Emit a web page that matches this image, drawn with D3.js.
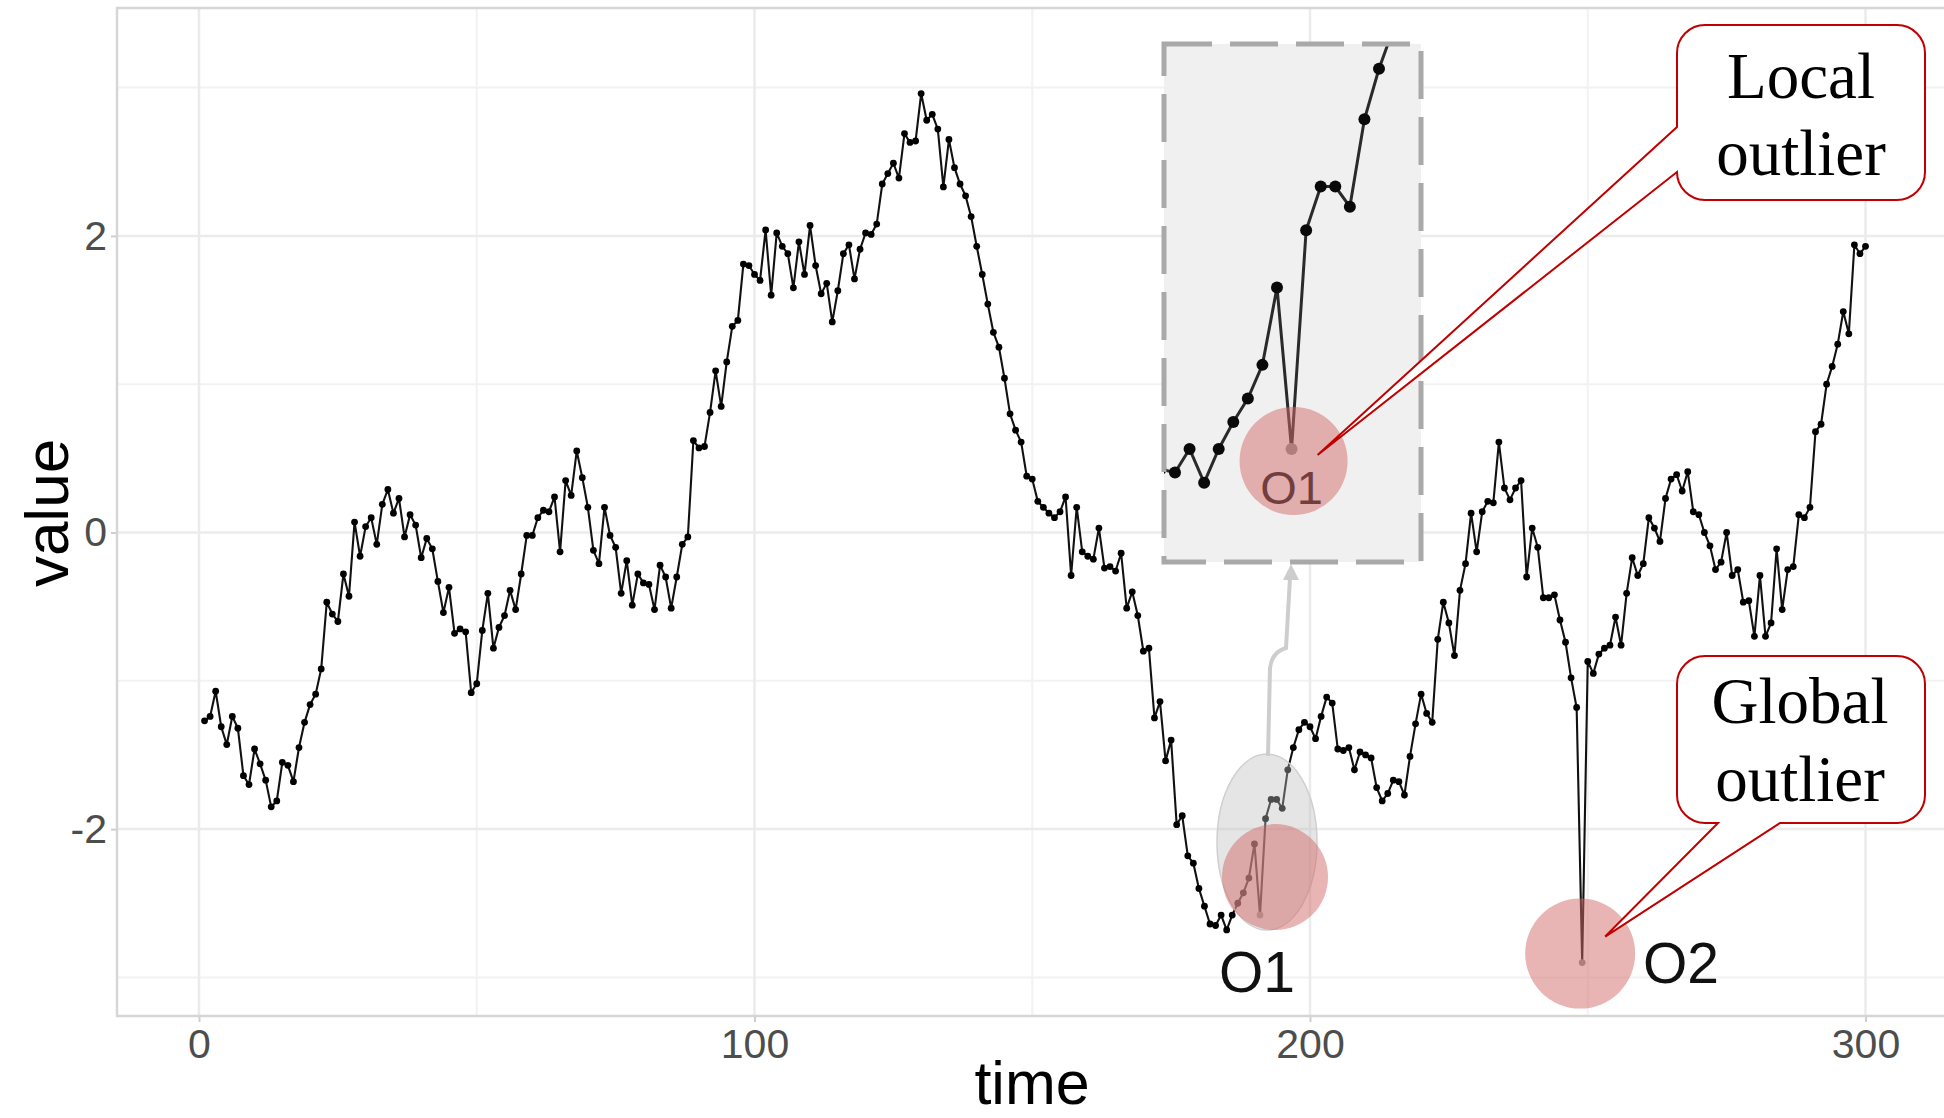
<!DOCTYPE html>
<html>
<head>
<meta charset="utf-8">
<script src="https://cdn.jsdelivr.net/npm/d3@7"></script>
<style>
  body { margin: 0; background: #fff; }
  text { font-family: "Liberation Sans", Arial, sans-serif; }
</style>
</head>
<body>
<div id="chart"></div>
<script>
const W = 1944, H = 1118

// series, time = 1..300
const values = [
  -1.27, -1.24, -1.07, -1.31, -1.43, -1.24, -1.32, -1.64, -1.70, -1.46,
  -1.56, -1.67, -1.85, -1.81, -1.55, -1.57, -1.68, -1.45, -1.28, -1.16,
  -1.09, -0.92, -0.47, -0.55, -0.60, -0.28, -0.43, 0.07, -0.16, 0.04,
  0.10, -0.08, 0.19, 0.29, 0.13, 0.23, -0.03, 0.12, 0.05, -0.17,
  -0.04, -0.11, -0.33, -0.54, -0.37, -0.68, -0.65, -0.67, -1.08, -1.02,
  -0.66, -0.41, -0.78, -0.64, -0.56, -0.39, -0.52, -0.28, -0.02, -0.02,
  0.10, 0.15, 0.14, 0.24, -0.13, 0.35, 0.25, 0.55, 0.37, 0.17,
  -0.12, -0.21, 0.17, -0.02, -0.10, -0.41, -0.19, -0.49, -0.28, -0.34,
  -0.35, -0.52, -0.22, -0.30, -0.51, -0.30, -0.08, -0.03, 0.62, 0.57,
  0.58, 0.81, 1.09, 0.85, 1.15, 1.39, 1.43, 1.81, 1.80, 1.74,
  1.70, 2.04, 1.60, 2.02, 1.93, 1.88, 1.65, 1.96, 1.74, 2.07,
  1.80, 1.61, 1.68, 1.42, 1.63, 1.88, 1.94, 1.71, 1.91, 2.02,
  2.01, 2.08, 2.35, 2.42, 2.49, 2.39, 2.69, 2.63, 2.64, 2.96,
  2.78, 2.82, 2.72, 2.33, 2.65, 2.46, 2.35, 2.27, 2.13, 1.93,
  1.74, 1.54, 1.35, 1.25, 1.04, 0.80, 0.69, 0.61, 0.38, 0.36,
  0.21, 0.17, 0.13, 0.10, 0.14, 0.24, -0.29, 0.17, -0.13, -0.16,
  -0.18, 0.03, -0.24, -0.23, -0.26, -0.14, -0.51, -0.40, -0.56, -0.80,
  -0.78, -1.25, -1.14, -1.54, -1.40, -1.97, -1.91, -2.18, -2.23, -2.40,
  -2.52, -2.64, -2.65, -2.58, -2.68, -2.58, -2.50, -2.43, -2.33, -2.10,
  -2.58, -1.93, -1.80, -1.80, -1.86, -1.60, -1.45, -1.33, -1.28, -1.31,
  -1.39, -1.24, -1.11, -1.15, -1.46, -1.47, -1.45, -1.60, -1.48, -1.50,
  -1.52, -1.72, -1.81, -1.76, -1.67, -1.68, -1.77, -1.51, -1.29, -1.09,
  -1.22, -1.28, -0.72, -0.47, -0.61, -0.83, -0.39, -0.21, 0.13, -0.13,
  0.14, 0.21, 0.20, 0.61, 0.30, 0.22, 0.30, 0.35, -0.30, 0.03,
  -0.10, -0.44, -0.44, -0.42, -0.59, -0.74, -0.98, -1.18, -2.90, -0.87,
  -0.95, -0.82, -0.78, -0.76, -0.57, -0.76, -0.41, -0.17, -0.29, -0.21,
  0.10, 0.03, -0.06, 0.23, 0.36, 0.39, 0.28, 0.41, 0.14, 0.12,
  0.00, -0.09, -0.25, -0.20, 0.00, -0.29, -0.25, -0.47, -0.46, -0.70,
  -0.29, -0.70, -0.61, -0.11, -0.52, -0.25, -0.23, 0.12, 0.10, 0.17,
  0.68, 0.73, 1.00, 1.12, 1.27, 1.49, 1.34, 1.94, 1.88, 1.93
]
const timeTicks = [0, 100, 200, 300]
const timeMinor = [50, 150, 250]
const valueTicks = [-2, 0, 2]
const valueMinor = [-3, -1, 1, 3]
const outlierTimes = [191, 249]     // O1 (local), O2 (global)
const insetTimes = [181, 199]

const data = values.map((v, i) => ({ t: i + 1, v: v }))

const PANEL = { LEFT: 117, TOP: 8, BOTTOM: 1016 }

const svg = d3.select("#chart").append("svg")
    .attr("width", W)
    .attr("height", H)

svg.append("defs").append("clipPath").attr("id", "panel-clip")
  .append("rect")
    .attr("x", PANEL.LEFT).attr("y", PANEL.TOP)
    .attr("width", W - PANEL.LEFT).attr("height", PANEL.BOTTOM - PANEL.TOP)

// Scales
const x = d3.scaleLinear().domain([0, 300]).range([199, 1865.5])
const y = d3.scaleLinear().domain([-3, 3]).range([977.4, 87.6])

// Grid
const grid = svg.append("g").attr("clip-path", "url(#panel-clip)")
grid.selectAll(".vminor").data(timeMinor).enter().append("line")
    .attr("x1", d => x(d)).attr("x2", d => x(d))
    .attr("y1", PANEL.TOP).attr("y2", PANEL.BOTTOM)
    .attr("stroke", "#f2f2f2").attr("stroke-width", 2)
grid.selectAll(".hminor").data(valueMinor).enter().append("line")
    .attr("x1", PANEL.LEFT).attr("x2", W)
    .attr("y1", d => y(d)).attr("y2", d => y(d))
    .attr("stroke", "#f2f2f2").attr("stroke-width", 2)
grid.selectAll(".vmajor").data(timeTicks).enter().append("line")
    .attr("x1", d => x(d)).attr("x2", d => x(d))
    .attr("y1", PANEL.TOP).attr("y2", PANEL.BOTTOM)
    .attr("stroke", "#ebebeb").attr("stroke-width", 2.5)
grid.selectAll(".hmajor").data(valueTicks).enter().append("line")
    .attr("x1", PANEL.LEFT).attr("x2", W)
    .attr("y1", d => y(d)).attr("y2", d => y(d))
    .attr("stroke", "#ebebeb").attr("stroke-width", 2.5)

// Panel border
svg.append("rect")
    .attr("x", PANEL.LEFT).attr("y", PANEL.TOP)
    .attr("width", W - PANEL.LEFT + 20).attr("height", PANEL.BOTTOM - PANEL.TOP)
    .attr("fill", "none").attr("stroke", "#d6d6d6").attr("stroke-width", 2.5)

// Axes
const xAxis = svg.append("g")
    .attr("transform", `translate(0, ${PANEL.BOTTOM + 1})`)
    .call(d3.axisBottom(x).tickValues(timeTicks).tickSize(5).tickPadding(7))
const yAxis = svg.append("g")
    .attr("transform", `translate(${PANEL.LEFT - 1}, 0)`)
    .call(d3.axisLeft(y).tickValues(valueTicks).tickSize(5).tickPadding(4).tickFormat(d => String(d)))
for (const a of [xAxis, yAxis]) {
  a.select(".domain").remove()
  a.selectAll(".tick line").attr("stroke", "#cfcfcf").attr("stroke-width", 2)
  a.selectAll(".tick text")
    .attr("font-family", "Liberation Sans, Arial, sans-serif")
    .attr("font-size", "41px").attr("fill", "#4d4d4d")
}

// Axis titles
svg.append("text")
    .attr("x", 1032).attr("y", 1104)
    .attr("text-anchor", "middle").attr("font-size", "61px").attr("fill", "#000")
    .text("time")
svg.append("text")
    .attr("transform", "translate(68, 513) rotate(-90)")
    .attr("text-anchor", "middle").attr("font-size", "62px").attr("fill", "#000")
    .text("value")

// Series
const line = d3.line().x(d => x(d.t)).y(d => y(d.v))
const series = svg.append("g").attr("clip-path", "url(#panel-clip)")
series.append("path").datum(data)
    .attr("d", line).attr("fill", "none")
    .attr("stroke", "#111").attr("stroke-width", 2.1)
series.selectAll("circle").data(data).enter().append("circle")
    .attr("cx", d => x(d.t)).attr("cy", d => y(d.v))
    .attr("r", 3.4)
    .attr("fill", d => outlierTimes.includes(d.t) ? "#8f8f8f" : "#000")

const o1 = data.find(d => d.t === outlierTimes[0])
const o2 = data.find(d => d.t === outlierTimes[1])

// gray ellipse around the O1 neighbourhood
svg.append("ellipse")
    .attr("cx", x(o1.t) + 7).attr("cy", y(o1.v) - 73)
    .attr("rx", 50).attr("ry", 88)
    .attr("fill", "rgba(190,190,190,0.4)")
    .attr("stroke", "#cfcfcf").attr("stroke-width", 1.5)

// pink highlight circles
svg.append("circle")
    .attr("cx", x(o1.t) + 15).attr("cy", y(o1.v) - 38).attr("r", 53)
    .attr("fill", "rgb(210,105,105)").attr("opacity", 0.5)
svg.append("circle")
    .attr("cx", x(o2.t) - 2).attr("cy", y(o2.v) - 9).attr("r", 55)
    .attr("fill", "rgb(210,105,105)").attr("opacity", 0.5)

// O labels
svg.append("text")
    .attr("x", 1257).attr("y", 992).attr("text-anchor", "middle")
    .attr("font-size", "57px").attr("fill", "#111").text("O1")
svg.append("text")
    .attr("x", 1643).attr("y", 983)
    .attr("font-size", "57px").attr("fill", "#111").text("O2")

// arrow from ellipse to inset
svg.append("path")
    .attr("d", "M1268,756 L1270,668 Q1272,652 1286,648 L1290,578")
    .attr("fill", "none").attr("stroke", "#cdcdcd").attr("stroke-width", 4)
svg.append("path")
    .attr("d", "M1291,564 L1299,580 L1283,580 Z")
    .attr("fill", "#cdcdcd")

// Inset (zoomed view of the local outlier)
const BOX = { X: 1164, Y: 44, W: 257, H: 518 }
svg.select("defs").append("clipPath").attr("id", "inset-clip")
  .append("rect").attr("x", BOX.X).attr("y", BOX.Y).attr("width", BOX.W).attr("height", BOX.H)

svg.append("rect")
    .attr("x", BOX.X).attr("y", BOX.Y).attr("width", BOX.W).attr("height", BOX.H)
    .attr("fill", "#f0f0f0")

const xi = d3.scaleLinear().domain([183, 197]).range([1175, 1379])
const yi = d3.scaleLinear().domain([-2.58, -1.43]).range([449, 62])
const insetData = data.filter(d => d.t >= insetTimes[0] && d.t <= insetTimes[1])
const inset = svg.append("g").attr("clip-path", "url(#inset-clip)")
inset.append("path").datum(insetData)
    .attr("d", d3.line().x(d => xi(d.t)).y(d => yi(d.v)))
    .attr("fill", "none").attr("stroke", "#2a2a2a").attr("stroke-width", 3)
inset.selectAll("circle").data(insetData).enter().append("circle")
    .attr("cx", d => xi(d.t)).attr("cy", d => yi(d.v))
    .attr("r", 6)
    .attr("fill", d => d.t === o1.t ? "#8f8f8f" : "#0a0a0a")
inset.append("text")
    .attr("x", xi(o1.t)).attr("y", yi(o1.v) + 55).attr("text-anchor", "middle")
    .attr("font-size", "47px").attr("fill", "#111").text("O1")
inset.append("circle")
    .attr("cx", xi(o1.t) + 2).attr("cy", yi(o1.v) + 12).attr("r", 54)
    .attr("fill", "rgb(210,105,105)").attr("opacity", 0.5)

svg.append("rect")
    .attr("x", BOX.X).attr("y", BOX.Y).attr("width", BOX.W).attr("height", BOX.H)
    .attr("fill", "none").attr("stroke", "#a9a9a9").attr("stroke-width", 5)
    .attr("stroke-dasharray", "48,18")

// Callouts
function callout(x0, y0, x1, y1, r, notch) {
  const p = d3.path()
  p.moveTo(x0 + r, y0)
  p.lineTo(x1 - r, y0)
  p.arcTo(x1, y0, x1, y0 + r, r)
  p.lineTo(x1, y1 - r)
  p.arcTo(x1, y1, x1 - r, y1, r)
  if (notch.side === "bottom") {
    p.lineTo(notch.b, y1)
    p.lineTo(notch.tx, notch.ty)
    p.lineTo(notch.a, y1)
  }
  p.lineTo(x0 + r, y1)
  p.arcTo(x0, y1, x0, y1 - r, r)
  if (notch.side === "left") {
    p.lineTo(x0, notch.b)
    p.lineTo(notch.tx, notch.ty)
    p.lineTo(x0, notch.a)
  }
  p.lineTo(x0, y0 + r)
  p.arcTo(x0, y0, x0 + r, y0, r)
  p.closePath()
  return p.toString()
}

const tipLocal = { x: xi(o1.t) + 26, y: yi(o1.v) + 6 }
const tipGlobal = { x: x(o2.t) + 23, y: y(o2.v) - 26 }

svg.append("path")
    .attr("d", callout(1677, 25, 1925, 200, 28, { side: "left", a: 127, b: 172, tx: tipLocal.x, ty: tipLocal.y }))
    .attr("fill", "#fff").attr("stroke", "#c00000").attr("stroke-width", 2)
svg.append("path")
    .attr("d", callout(1677, 656, 1925, 823, 28, { side: "bottom", a: 1718, b: 1780, tx: tipGlobal.x, ty: tipGlobal.y }))
    .attr("fill", "#fff").attr("stroke", "#c00000").attr("stroke-width", 2)

const serif = "Liberation Serif, 'Times New Roman', serif"
const calloutText = [
  { x: 1801, y: 98, s: "Local" }, { x: 1801, y: 175, s: "outlier" },
  { x: 1800, y: 723, s: "Global" }, { x: 1800, y: 801, s: "outlier" }
]
svg.selectAll(".ctext").data(calloutText).enter().append("text")
    .attr("x", d => d.x).attr("y", d => d.y)
    .attr("text-anchor", "middle")
    .style("font-family", serif)
    .attr("font-size", "65px").attr("fill", "#000")
    .text(d => d.s)
</script>
</body>
</html>
